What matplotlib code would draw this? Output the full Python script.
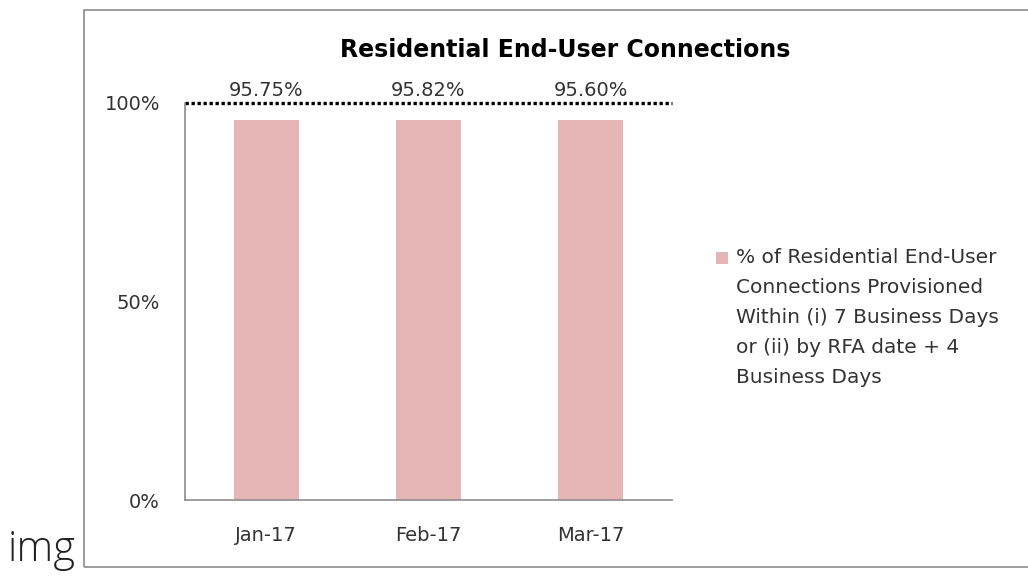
import matplotlib
matplotlib.use("Agg")
import matplotlib.pyplot as plt
from matplotlib.patches import Rectangle

# ---------- data ----------
months = ["Jan-17", "Feb-17", "Mar-17"]
pct_provisioned = [95.75, 95.82, 95.60]
target_pct = 100
y_ticks = [0, 50, 100]
y_tick_labels = ["0%", "50%", "100%"]
legend_label = ("% of Residential End-User\nConnections Provisioned\n"
                "Within (i) 7 Business Days\nor (ii) by RFA date + 4\nBusiness Days")
bar_color = "#e6b6b6"
text_color = "#333333"

plt.rcParams["font.family"] = ["DejaVu Sans"]

W, H = 1028, 577
fig = plt.figure(figsize=(W / 100, H / 100), dpi=100)

def fx(px):
    return px / W

def fy(py):
    return 1 - py / H

# outer chart frame (Excel style)
fig.add_artist(Rectangle((fx(84), fy(567)), 1.0, (567 - 10) / H,
                         transform=fig.transFigure, fill=False,
                         edgecolor="#8c8c8c", linewidth=1.2))
fig.text(fx(8), fy(561), "img", fontsize=30, color="#222222",
         va="baseline", ha="left", family="Open Sans", fontweight="light")

ax = fig.add_axes([fx(185), fy(500), fx(672) - fx(185), (500 - 103) / H])

x = range(len(months))
ax.bar(x, pct_provisioned, width=0.4, color=bar_color)
ax.axhline(target_pct, color="black", linestyle=(0, (1, 0.8)), linewidth=2.4,
           clip_on=False)

for xi, v in zip(x, pct_provisioned):
    ax.text(xi, target_pct + 0.8, f"{v:.2f}%", ha="center", va="bottom",
            fontsize=14, color=text_color, clip_on=False)

ax.set_xlim(-0.5, len(months) - 0.5)
ax.set_ylim(0, 100)
ax.set_yticks(y_ticks)
ax.set_yticklabels(y_tick_labels)
ax.set_xticks(list(x))
ax.set_xticklabels(months)
ax.tick_params(axis="both", length=0, labelsize=14, colors=text_color)
ax.tick_params(axis="y", pad=18)
ax.tick_params(axis="x", pad=19)

for side in ["top", "right"]:
    ax.spines[side].set_visible(False)
for side in ["left", "bottom"]:
    ax.spines[side].set_color("#8c8c8c")
    ax.spines[side].set_linewidth(1.2)

fig.text(fx(565), fy(50), "Residential End-User Connections",
         ha="center", va="center", fontsize=17, fontweight="bold",
         color="black")

# legend drawn by hand: swatch next to the first line of the wrapped label
fig.add_artist(Rectangle((fx(716), fy(264)), fx(12), 12 / H,
                         transform=fig.transFigure, facecolor=bar_color,
                         edgecolor="none"))
fig.text(fx(736), fy(248), legend_label, ha="left", va="top",
         fontsize=14.5, color=text_color, linespacing=1.73)

fig.savefig("out.png", dpi=100)
